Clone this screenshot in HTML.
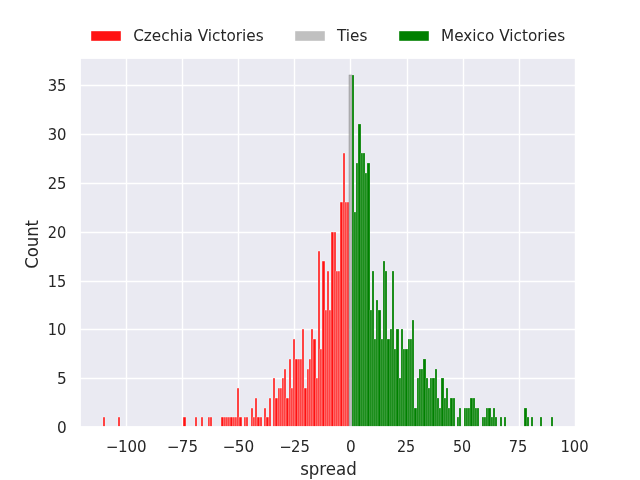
<!DOCTYPE html>
<html lang="en"><head><meta charset="utf-8"><title>Spread histogram</title>
<style>html,body{margin:0;padding:0;background:#fff;overflow:hidden}svg{display:block;will-change:transform}</style>
</head><body>
<svg width="640" height="480" viewBox="0 0 640 480">
<rect x="0" y="0" width="640" height="480" fill="#fff"/>
<rect x="80" y="58" width="496" height="369" fill="#eaeaf2"/>
<g stroke="#fff" stroke-width="1.3889" stroke-linecap="butt">
<line x1="126.5" y1="57.6" x2="126.5" y2="427.2"/>
<line x1="182.5" y1="57.6" x2="182.5" y2="427.2"/>
<line x1="238.5" y1="57.6" x2="238.5" y2="427.2"/>
<line x1="294.5" y1="57.6" x2="294.5" y2="427.2"/>
<line x1="350.5" y1="57.6" x2="350.5" y2="427.2"/>
<line x1="407.5" y1="57.6" x2="407.5" y2="427.2"/>
<line x1="463.5" y1="57.6" x2="463.5" y2="427.2"/>
<line x1="519.5" y1="57.6" x2="519.5" y2="427.2"/>
<line x1="575.5" y1="57.6" x2="575.5" y2="427.2"/>
<line x1="80.0" y1="427.5" x2="576.0" y2="427.5"/>
<line x1="80.0" y1="378.5" x2="576.0" y2="378.5"/>
<line x1="80.0" y1="329.5" x2="576.0" y2="329.5"/>
<line x1="80.0" y1="281.5" x2="576.0" y2="281.5"/>
<line x1="80.0" y1="232.5" x2="576.0" y2="232.5"/>
<line x1="80.0" y1="183.5" x2="576.0" y2="183.5"/>
<line x1="80.0" y1="134.5" x2="576.0" y2="134.5"/>
<line x1="80.0" y1="85.5" x2="576.0" y2="85.5"/>
</g>
<g class="cz" fill="#ff1212" stroke="#fff" stroke-width="0.4099" stroke-linejoin="miter">
<rect x="103" y="417" width="2" height="10"/>
<rect x="118" y="417" width="2" height="10"/>
<rect x="183" y="417" width="3" height="10"/>
<rect x="195" y="417" width="2" height="10"/>
<rect x="201" y="417" width="2" height="10"/>
<rect x="208" y="417" width="2" height="10"/>
<rect x="210" y="417" width="2" height="10"/>
<rect x="221" y="417" width="3" height="10"/>
<rect x="224" y="417" width="2" height="10"/>
<rect x="226" y="417" width="2" height="10"/>
<rect x="228" y="417" width="2" height="10"/>
<rect x="230" y="417" width="3" height="10"/>
<rect x="233" y="417" width="2" height="10"/>
<rect x="235" y="417" width="2" height="10"/>
<rect x="237" y="388" width="2" height="39"/>
<rect x="239" y="417" width="3" height="10"/>
<rect x="244" y="417" width="2" height="10"/>
<rect x="246" y="417" width="2" height="10"/>
<rect x="251" y="408" width="2" height="19"/>
<rect x="253" y="417" width="2" height="10"/>
<rect x="255" y="398" width="2" height="29"/>
<rect x="257" y="417" width="3" height="10"/>
<rect x="260" y="417" width="2" height="10"/>
<rect x="264" y="408" width="2" height="19"/>
<rect x="266" y="417" width="3" height="10"/>
<rect x="269" y="398" width="2" height="29"/>
<rect x="273" y="378" width="2" height="49"/>
<rect x="275" y="398" width="3" height="29"/>
<rect x="278" y="388" width="2" height="39"/>
<rect x="280" y="388" width="2" height="39"/>
<rect x="282" y="378" width="2" height="49"/>
<rect x="284" y="369" width="2" height="58"/>
<rect x="286" y="398" width="3" height="29"/>
<rect x="289" y="359" width="2" height="68"/>
<rect x="291" y="388" width="2" height="39"/>
<rect x="293" y="339" width="2" height="88"/>
<rect x="295" y="359" width="3" height="68"/>
<rect x="298" y="359" width="2" height="68"/>
<rect x="300" y="359" width="2" height="68"/>
<rect x="302" y="329" width="2" height="98"/>
<rect x="304" y="388" width="3" height="39"/>
<rect x="307" y="369" width="2" height="58"/>
<rect x="309" y="359" width="2" height="68"/>
<rect x="311" y="329" width="2" height="98"/>
<rect x="313" y="339" width="3" height="88"/>
<rect x="316" y="378" width="2" height="49"/>
<rect x="318" y="251" width="2" height="176"/>
<rect x="320" y="349" width="2" height="78"/>
<rect x="322" y="261" width="3" height="166"/>
<rect x="325" y="310" width="2" height="117"/>
<rect x="327" y="271" width="2" height="156"/>
<rect x="329" y="310" width="2" height="117"/>
<rect x="331" y="232" width="3" height="195"/>
<rect x="334" y="232" width="2" height="195"/>
<rect x="336" y="271" width="2" height="156"/>
<rect x="338" y="271" width="2" height="156"/>
<rect x="340" y="202" width="3" height="225"/>
<rect x="343" y="153" width="2" height="274"/>
<rect x="345" y="202" width="2" height="225"/>
<rect x="347" y="202" width="2" height="225"/>
</g>
<g class="tie" fill="#808080" fill-opacity="0.5" stroke="#808080" stroke-width="0.4099" stroke-linejoin="miter">
<rect x="349" y="75" width="3" height="352"/>
</g>
<g class="mx" fill="#008000" stroke="#fff" stroke-width="0.2243" stroke-linejoin="miter">
<rect x="352" y="75" width="2" height="352"/>
<rect x="354" y="212" width="2" height="215"/>
<rect x="356" y="163" width="2" height="264"/>
<rect x="358" y="124" width="3" height="303"/>
<rect x="361" y="153" width="2" height="274"/>
<rect x="363" y="153" width="2" height="274"/>
<rect x="365" y="173" width="2" height="254"/>
<rect x="367" y="163" width="3" height="264"/>
<rect x="370" y="310" width="2" height="117"/>
<rect x="372" y="271" width="2" height="156"/>
<rect x="374" y="339" width="2" height="88"/>
<rect x="376" y="300" width="2" height="127"/>
<rect x="378" y="310" width="3" height="117"/>
<rect x="381" y="339" width="2" height="88"/>
<rect x="383" y="261" width="2" height="166"/>
<rect x="385" y="271" width="2" height="156"/>
<rect x="387" y="339" width="3" height="88"/>
<rect x="390" y="329" width="2" height="98"/>
<rect x="392" y="271" width="2" height="156"/>
<rect x="394" y="349" width="2" height="78"/>
<rect x="396" y="329" width="3" height="98"/>
<rect x="399" y="378" width="2" height="49"/>
<rect x="401" y="329" width="2" height="98"/>
<rect x="403" y="349" width="2" height="78"/>
<rect x="405" y="349" width="3" height="78"/>
<rect x="408" y="339" width="2" height="88"/>
<rect x="410" y="339" width="2" height="88"/>
<rect x="412" y="320" width="2" height="107"/>
<rect x="414" y="408" width="3" height="19"/>
<rect x="417" y="378" width="2" height="49"/>
<rect x="419" y="369" width="2" height="58"/>
<rect x="421" y="369" width="2" height="58"/>
<rect x="423" y="359" width="3" height="68"/>
<rect x="426" y="378" width="2" height="49"/>
<rect x="428" y="388" width="2" height="39"/>
<rect x="430" y="378" width="2" height="49"/>
<rect x="432" y="378" width="3" height="49"/>
<rect x="435" y="369" width="2" height="58"/>
<rect x="437" y="398" width="2" height="29"/>
<rect x="439" y="408" width="2" height="19"/>
<rect x="441" y="378" width="3" height="49"/>
<rect x="444" y="398" width="2" height="29"/>
<rect x="446" y="388" width="2" height="39"/>
<rect x="448" y="408" width="2" height="19"/>
<rect x="450" y="398" width="3" height="29"/>
<rect x="453" y="398" width="2" height="29"/>
<rect x="457" y="417" width="2" height="10"/>
<rect x="459" y="408" width="2" height="19"/>
<rect x="464" y="408" width="2" height="19"/>
<rect x="466" y="408" width="2" height="19"/>
<rect x="468" y="408" width="2" height="19"/>
<rect x="470" y="398" width="3" height="29"/>
<rect x="473" y="398" width="2" height="29"/>
<rect x="475" y="408" width="2" height="19"/>
<rect x="477" y="408" width="2" height="19"/>
<rect x="482" y="417" width="2" height="10"/>
<rect x="484" y="417" width="2" height="10"/>
<rect x="486" y="408" width="2" height="19"/>
<rect x="488" y="408" width="3" height="19"/>
<rect x="491" y="417" width="2" height="10"/>
<rect x="493" y="408" width="2" height="19"/>
<rect x="495" y="417" width="2" height="10"/>
<rect x="500" y="417" width="2" height="10"/>
<rect x="504" y="417" width="2" height="10"/>
<rect x="524" y="408" width="3" height="19"/>
<rect x="527" y="417" width="2" height="10"/>
<rect x="531" y="417" width="2" height="10"/>
<rect x="540" y="417" width="2" height="10"/>
<rect x="551" y="417" width="2" height="10"/>
</g>
<rect x="80" y="58" width="496" height="369" fill="none" stroke="#fff" stroke-width="1.7361"/>
<g font-family="DejaVu Sans, Liberation Sans, sans-serif" fill="#262626">
<text transform="translate(125.60,451.50) scale(0.985,1)" dx="0.8 -0.8" text-anchor="middle" font-size="15.2778px">−100</text>
<text transform="translate(181.68,451.50) scale(0.985,1)" dx="0.8 -0.8" text-anchor="middle" font-size="15.2778px">−75</text>
<text transform="translate(237.77,451.50)" dx="0.8 -0.8" text-anchor="middle" font-size="15.2778px">−50</text>
<text transform="translate(293.85,451.50) scale(0.97,1)" dx="0.8 -0.8" text-anchor="middle" font-size="15.2778px">−25</text>
<text transform="translate(350.93,451.50) scale(1,1.04)" text-anchor="middle" font-size="15.2778px">0</text>
<text transform="translate(406.02,451.50) scale(0.94,1)" text-anchor="middle" font-size="15.2778px">25</text>
<text transform="translate(462.10,451.50) scale(0.94,1)" text-anchor="middle" font-size="15.2778px">50</text>
<text transform="translate(517.93,451.50) scale(0.955,1.04)" text-anchor="middle" font-size="15.2778px">75</text>
<text transform="translate(574.52,451.50) scale(0.97,1.04)" text-anchor="middle" font-size="15.2778px">100</text>
<text transform="translate(66.80,432.50) scale(1,1.04)" text-anchor="end" font-size="15.2778px">0</text>
<text transform="translate(66.80,383.50)" text-anchor="end" font-size="15.2778px">5</text>
<text transform="translate(66.30,334.50) scale(0.955,1)" text-anchor="end" font-size="15.2778px">10</text>
<text transform="translate(66.30,286.50) scale(0.955,1)" text-anchor="end" font-size="15.2778px">15</text>
<text transform="translate(66.30,237.50) scale(0.955,1)" text-anchor="end" font-size="15.2778px">20</text>
<text transform="translate(66.55,188.50) scale(0.97,1)" text-anchor="end" font-size="15.2778px">25</text>
<text transform="translate(66.55,139.50) scale(0.97,1)" text-anchor="end" font-size="15.2778px">30</text>
<text transform="translate(66.55,90.50) scale(0.97,1)" text-anchor="end" font-size="15.2778px">35</text>
<text transform="translate(133.18,40.50)" text-anchor="start" font-size="15.2778px">Czechia Victories</text>
<text transform="translate(337.01,40.50)" text-anchor="start" font-size="15.2778px">Ties</text>
<text transform="translate(440.97,40.50) scale(1,1.04)" text-anchor="start" font-size="15.2778px">Mexico Victories</text>
<text transform="translate(328.50,475.00) scale(1,1.08)" text-anchor="middle" font-size="16.6667px">spread</text>
<text transform="translate(38.00,244.40) rotate(-90) scale(0.99,1.08)" text-anchor="middle" font-size="16.6667px">Count</text>
</g>
<rect x="90.5" y="30.5" width="31" height="11" fill="#ff1212" stroke="#fff" stroke-width="1.3889"/>
<rect x="294.5" y="30.5" width="31" height="11" fill="#c0c0c0" stroke="#fff" stroke-width="1.3889"/>
<rect x="398.5" y="30.5" width="31" height="11" fill="#008000" stroke="#fff" stroke-width="1.3889"/>
</svg>
</body></html>
